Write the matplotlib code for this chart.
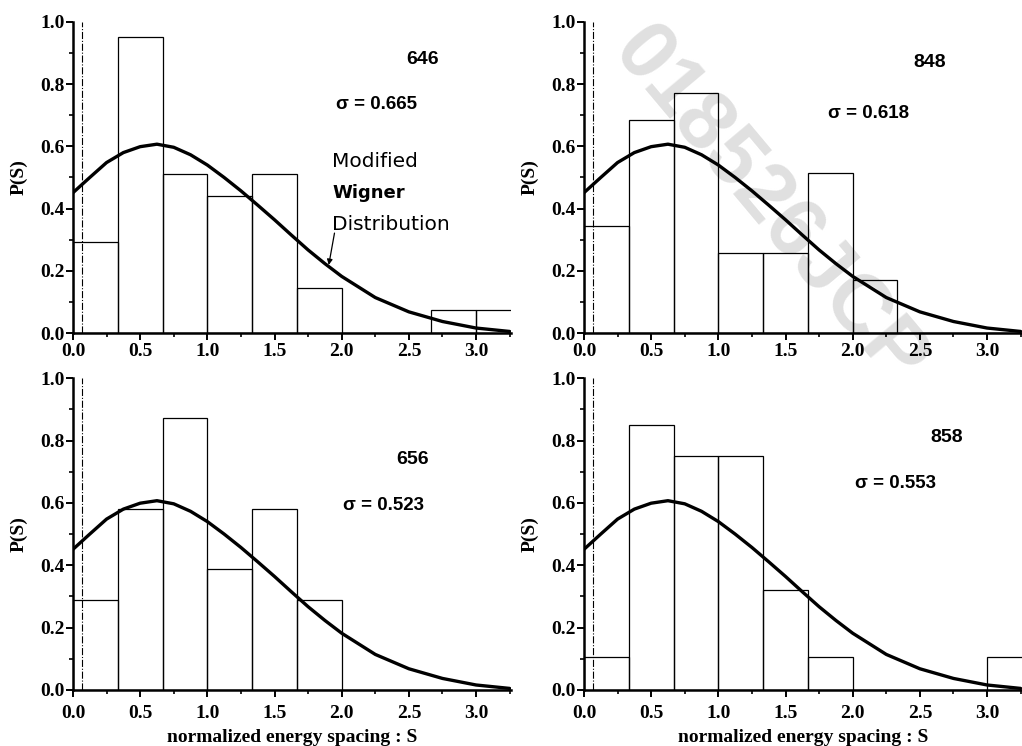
import numpy as np
import matplotlib
matplotlib.use("Agg")
import matplotlib.pyplot as plt
from matplotlib.ticker import MultipleLocator

# bin edges of the spacing histograms (width 1/3)
bin_left = [0.0, 1/3, 2/3, 1.0, 4/3, 5/3, 2.0, 7/3, 8/3, 3.0]
bin_width = 1/3

# histogram heights P(S) per bin
h646 = [0.293, 0.951, 0.512, 0.439, 0.512, 0.146, 0.0, 0.0, 0.073, 0.073]
h848 = [0.343, 0.686, 0.771, 0.257, 0.257, 0.514, 0.171, 0.0, 0.0, 0.0]
h656 = [0.290, 0.581, 0.871, 0.387, 0.581, 0.290, 0.0, 0.0, 0.0, 0.0]
h858 = [0.107, 0.850, 0.750, 0.750, 0.321, 0.107, 0.0, 0.0, 0.0, 0.107]

# modified Wigner curve
curve_s = [0.0, 0.125, 0.25, 0.375, 0.5, 0.625, 0.75, 0.875, 1.0, 1.125, 1.25,
           1.375, 1.5, 1.625, 1.75, 1.875, 2.0, 2.25, 2.5, 2.75, 3.0, 3.25]
curve_p = [0.451, 0.500, 0.548, 0.580, 0.599, 0.607, 0.597, 0.573, 0.540, 0.500, 0.457,
           0.411, 0.364, 0.315, 0.267, 0.223, 0.182, 0.114, 0.068, 0.037, 0.016, 0.005]

labels = ["646", "848", "656", "858"]
sigmas = ["\u03c3 = 0.665", "\u03c3 = 0.618", "\u03c3 = 0.523", "\u03c3 = 0.553"]
heights = [h646, h848, h656, h858]

# text positions (data coords) for the number and sigma labels
num_pos = [(2.6, 0.88), (2.57, 0.87), (2.53, 0.74), (2.70, 0.81)]
sig_pos = [(2.26, 0.735), (2.12, 0.707), (2.31, 0.593), (2.32, 0.663)]

fig = plt.figure(figsize=(10.22, 7.46), dpi=100)

# watermark behind everything
fig.text(0.752, 0.722, "018526JCP", rotation=-50, fontsize=60, fontweight="bold",
         color="#e0e0e0", ha="center", va="center", family="Liberation Sans", zorder=0)

rects = [[0.0714, 0.5536, 0.4286, 0.417],
         [0.5714, 0.5536, 0.4286, 0.417],
         [0.0714, 0.0751, 0.4286, 0.418],
         [0.5714, 0.0751, 0.4286, 0.418]]

serif = "Liberation Serif"
for i, r in enumerate(rects):
    ax = fig.add_axes(r)
    ax.set_zorder(1)
    ax.patch.set_alpha(0)
    ax.bar(bin_left, heights[i], width=bin_width, align="edge", facecolor="none",
           edgecolor="black", linewidth=0.9, zorder=2)
    ax.plot(curve_s, curve_p, color="black", linewidth=2.4, zorder=3,
            solid_joinstyle="round", solid_capstyle="round")
    ax.axvline(0.068, color="black", linestyle="-.", linewidth=0.8, zorder=1)
    ax.set_xlim(0, 3.26)
    ax.set_ylim(0, 1.0)
    ax.spines["top"].set_visible(False)
    ax.spines["right"].set_visible(False)
    for s in ["left", "bottom"]:
        ax.spines[s].set_linewidth(1.8)
    ax.xaxis.set_major_locator(MultipleLocator(0.5))
    ax.xaxis.set_minor_locator(MultipleLocator(0.25))
    ax.yaxis.set_major_locator(MultipleLocator(0.2))
    ax.yaxis.set_minor_locator(MultipleLocator(0.1))
    ax.tick_params(which="major", direction="out", length=5, width=1.4)
    ax.tick_params(which="minor", direction="out", length=3, width=1.2)
    ax.set_xticks([0, 0.5, 1.0, 1.5, 2.0, 2.5, 3.0])
    ax.set_xticklabels(["0.0", "0.5", "1.0", "1.5", "2.0", "2.5", "3.0"])
    ax.set_yticks([0, 0.2, 0.4, 0.6, 0.8, 1.0])
    ax.set_yticklabels(["0.0", "0.2", "0.4", "0.6", "0.8", "1.0"])
    for t in ax.get_xticklabels() + ax.get_yticklabels():
        t.set_fontfamily(serif)
        t.set_fontweight("bold")
        t.set_fontsize(14)
    ax.tick_params(axis="x", pad=2 if i < 2 else 6)
    ax.tick_params(axis="y", pad=1)
    ax.set_ylabel("P(S)", fontsize=14, fontweight="bold", family=serif, labelpad=9)
    if i >= 2:
        ax.set_xlabel("normalized energy spacing : S", fontsize=14, fontweight="bold",
                      family=serif, labelpad=5)
    ax.text(num_pos[i][0], num_pos[i][1], labels[i], fontsize=14, fontweight="bold",
            family="Liberation Sans", ha="center", va="center")
    ax.text(sig_pos[i][0], sig_pos[i][1], sigmas[i], fontsize=13.5, fontweight="bold",
            family="Liberation Sans", ha="center", va="center")
    if i == 0:
        ax.text(1.93, 0.55, "Modified", fontsize=14.5, family="DejaVu Sans", ha="left", va="center")
        ax.text(1.93, 0.45, "Wigner", fontsize=13, fontweight="bold", family="DejaVu Sans",
                ha="left", va="center")
        ax.text(1.93, 0.35, "Distribution", fontsize=14.5, family="DejaVu Sans", ha="left", va="center")
        ax.annotate("", xy=(1.90, 0.21), xytext=(1.95, 0.33),
                    arrowprops=dict(arrowstyle="-|>", color="black", lw=0.9,
                                    mutation_scale=8))

fig.savefig("out.png", dpi=100)
